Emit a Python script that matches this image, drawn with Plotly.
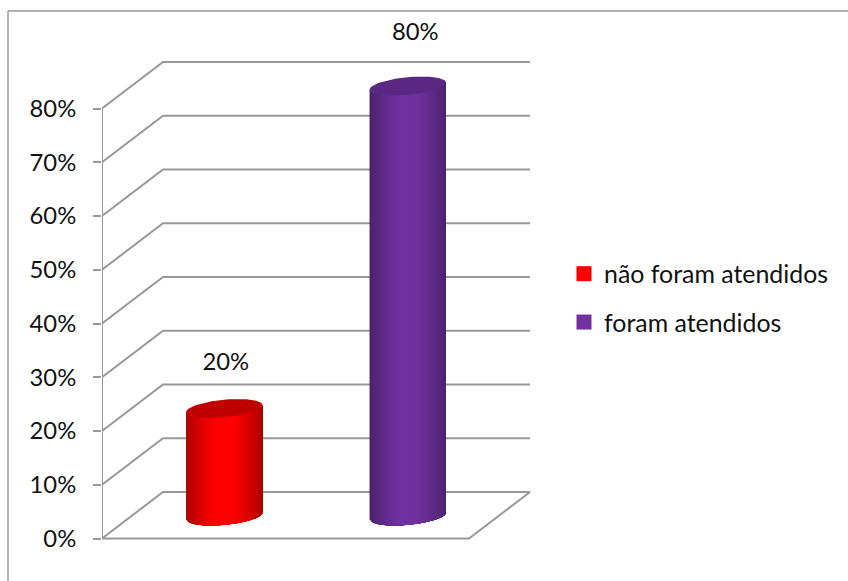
import numpy as np
import plotly.graph_objects as go

# --- data
categories = ["não foram atendidos", "foram atendidos"]
values = [20, 80]
tick_values = [0, 10, 20, 30, 40, 50, 60, 70, 80]
series_colors = ["#ff0000", "#7030a0"]
edge_colors = [(165, 0, 0), (70, 34, 104)]
top_colors = ["#c00000", "#5a2782"]

# --- pixel layout of the 848x581 page
W, H = 848, 581
LEFT = 102
PX_PER_CAT = 183.5
PX_PER_PCT = 5.375
Y0_PX = 538.5
DEPTH_X = 61 / PX_PER_CAT
DEPTH_Y = 46.5 / PX_PER_PCT
CYL_DX = 30.5 / PX_PER_CAT
CYL_DY = 22.5 / PX_PER_PCT
RAD_X = 38.2 / PX_PER_CAT
RAD_B = 8.8 / PX_PER_PCT
SHEAR = 3.5 / PX_PER_PCT
GRID = "#989898"
FONT = "Lato"
FS = 23.8
STRIPS = 48

fig = go.Figure()


def line(xs, ys):
    fig.add_trace(go.Scatter(x=xs, y=ys, mode="lines", showlegend=False, hoverinfo="skip",
                             line=dict(color=GRID, width=2, simplify=False)))


n_cat = len(categories)
# back wall and side wall lines
for v in tick_values[1:]:
    line([0, DEPTH_X, n_cat + DEPTH_X], [v, v + DEPTH_Y, v + DEPTH_Y])
# floor
line([0, DEPTH_X, n_cat + DEPTH_X, n_cat, 0], [0, DEPTH_Y, DEPTH_Y, 0, 0])
# front axis
line([0, 0], [0, max(tick_values)])


def shade(frac, edge, center):
    # frac 0 at edges, 1 at centre
    k = min(1.0, frac / 0.75) ** 0.75
    return "rgb(%d,%d,%d)" % tuple(round(e + (c - e) * k) for e, c in zip(edge, center))


def hex_rgb(h):
    return tuple(int(h[i:i + 2], 16) for i in (1, 3, 5))


for i, (name, val) in enumerate(zip(categories, values)):
    cx = i + 0.5 + CYL_DX
    base = CYL_DY
    top = val + CYL_DY
    center = hex_rgb(series_colors[i])
    edges = np.linspace(-1, 1, STRIPS + 1)
    # painted left to right, each strip reaching the right edge, so no seams show
    for a, b in zip(edges[:-1], edges[1:]):
        m = (a + b) / 2
        t = np.linspace(a, 1, 24)
        xs = cx + RAD_X * t
        low = -RAD_B * np.sqrt(np.clip(1 - t**2, 0, 1)) + SHEAR * t
        col = shade(1 - abs(m), edge_colors[i], center)
        fig.add_trace(go.Scatter(
            x=np.r_[xs, xs[::-1]], y=np.r_[base + low, (top + low)[::-1]],
            mode="lines", fill="toself", fillcolor=col,
            line=dict(width=0), showlegend=False, hoverinfo="skip"))
    th = np.linspace(0, 2 * np.pi, 80)
    fig.add_trace(go.Scatter(
        x=cx + RAD_X * np.cos(th), y=top + RAD_B * np.sin(th) + SHEAR * np.cos(th),
        mode="lines", fill="toself", fillcolor=top_colors[i],
        line=dict(width=0), showlegend=False, hoverinfo="skip"))
    # legend entry
    fig.add_trace(go.Scatter(
        x=[None], y=[None], mode="markers", name=name, legendgroup=name,
        marker=dict(symbol="square", size=15, color=series_colors[i])))

# value labels
label_shift_x = [1.5 / PX_PER_CAT, 7.5 / PX_PER_CAT]
label_shift_y = [12.5, 13.8]
fig.add_trace(go.Scatter(
    x=[i + 0.5 + CYL_DX + label_shift_x[i] for i in range(n_cat)],
    y=[v + label_shift_y[i] for i, v in enumerate(values)],
    text=[f"{v}%" for v in values], mode="text", textposition="middle center",
    textfont=dict(family=FONT, size=FS, color="#111111"),
    showlegend=False, hoverinfo="skip"))

plot_w = W - LEFT
fig.update_layout(
    width=W, height=H, autosize=False,
    margin=dict(l=LEFT, r=0, t=0, b=0, pad=0),
    paper_bgcolor="white", plot_bgcolor="white", hovermode=False,
    font=dict(family=FONT, size=FS, color="#111111"),
    xaxis=dict(range=[0, plot_w / PX_PER_CAT], visible=False, fixedrange=True),
    yaxis=dict(range=[(Y0_PX - H) / PX_PER_PCT, Y0_PX / PX_PER_PCT], tickmode="array",
               tickvals=tick_values, ticktext=[f"{v}%" for v in tick_values],
               ticks="outside", ticklen=8,
               tickwidth=2, tickcolor=GRID, showgrid=False, zeroline=False, showline=False,
               ticklabelstandoff=12, fixedrange=True),
    legend=dict(x=(575 - LEFT) / plot_w, y=1 - 251 / H, xanchor="left", yanchor="top",
                bgcolor="rgba(0,0,0,0)", tracegroupgap=13, traceorder="grouped",
                indentation=-11, itemclick=False, itemdoubleclick=False,
                font=dict(family=FONT, size=FS + 1.1, color="#111111")),
    shapes=[
        dict(type="line", xref="paper", yref="paper", x0=-(LEFT - 8) / plot_w, x1=1,
             y0=1 - 11 / H, y1=1 - 11 / H, line=dict(color=GRID, width=1.5)),
        dict(type="line", xref="paper", yref="paper", x0=-(LEFT - 8) / plot_w, x1=-(LEFT - 8) / plot_w,
             y0=0, y1=1 - 11 / H, line=dict(color=GRID, width=1.5)),
    ],
)
fig.write_html("out.html", config={"displayModeBar": False},
               post_script="document.body.style.margin='0';document.body.style.overflow='hidden';")
